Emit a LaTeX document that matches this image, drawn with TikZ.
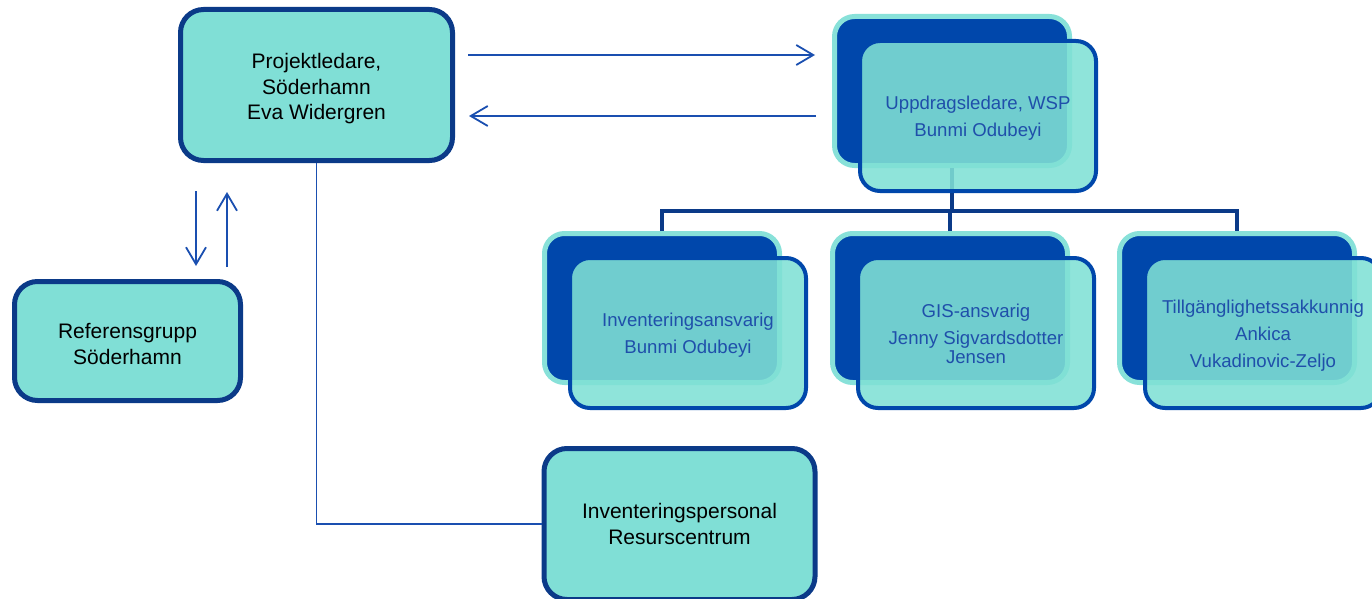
\documentclass[tikz,border=0pt]{standalone}
\usepackage{fontspec}
\setmainfont{Liberation Sans}
\usetikzlibrary{arrows.meta}
\definecolor{navy}{HTML}{0B3A88}
\definecolor{turq}{HTML}{80DFD6}
\definecolor{lblue}{HTML}{1A4FB0}
\definecolor{dblue}{HTML}{0047AB}
\definecolor{lturq}{HTML}{88E1D9}
\definecolor{ffill}{HTML}{80E0D5}
\definecolor{ftext}{HTML}{1F4FAA}
\newcommand{\topstrut}[1]{\rule{0pt}{#1}}
\begin{document}
\begin{tikzpicture}[x=1pt,y=-1pt,
  plainbox/.style={draw=navy, line width=5pt, fill=turq, rounded corners=23pt, text=black,
    font=\fontsize{21}{25.5}\selectfont, align=center, inner sep=0pt},
  backbox/.style={draw=lturq, line width=5pt, fill=dblue, rounded corners=20pt,
    minimum width=235pt, minimum height=149pt, inner sep=0pt},
  frontbox/.style={draw=dblue, line width=4pt, fill=ffill, fill opacity=0.88, text opacity=1,
    rounded corners=20pt, minimum width=236pt, minimum height=150pt, inner sep=0pt,
    text=ftext, font=\fontsize{18.6}{19.2}\selectfont, align=center},
  orgline/.style={draw=navy, line width=4pt, line join=miter},
  thinline/.style={draw=lblue, line width=1.8pt},
  arr/.style={thinline, -{Straight Barb[length=17pt,width=20pt]}},
]
\useasboundingbox (0,0) rectangle (1372,599);

% plain boxes
\node[plainbox, minimum width=272pt, minimum height=151pt] (proj) at (316.5,85)
  {\topstrut{22.5pt}Projektledare,\\Söderhamn\\Eva Widergren};
\node[plainbox, minimum width=226pt, minimum height=119pt] (ref) at (127.5,341)
  {\topstrut{21.5pt}Referensgrupp\\Söderhamn};
\node[plainbox, minimum width=271pt, minimum height=151pt] (invp) at (679.5,524)
  {Inventeringspersonal\\Resurscentrum};

% back boxes
\node[backbox] (wspb) at (952,91) {};
\node[backbox] (invb) at (662,308) {};
\node[backbox] (gisb) at (950,308) {};
\node[backbox] (tilb) at (1237,308) {};

% org connectors
\coordinate (hy) at (0,211);
\draw[orgline] (wspb.south) -- (wspb.south |- hy);
\draw[orgline] (invb.north) -- (invb.north |- hy) -- (tilb.north |- hy) -- (tilb.north);
\draw[orgline] (gisb.north) -- (gisb.north |- hy);

% front boxes
\node[frontbox] (wspf) at (978,116) {\topstrut{18.8pt}Uppdragsledare, WSP\\[7.8pt]Bunmi Odubeyi};
\node[frontbox] (invf) at (688,333) {\topstrut{17.8pt}Inventeringsansvarig\\[7.8pt]Bunmi Odubeyi};
\node[frontbox] (gisf) at (976,333) {\topstrut{15.5pt}GIS-ansvarig\\[7.8pt]Jenny Sigvardsdotter\\Jensen};
\node[frontbox] (tilf) at (1263,333) {\topstrut{18.8pt}Tillgänglighetssakkunnig\\[7.8pt]Ankica\\[7.8pt]Vukadinovic-Zeljo};

% arrows between project leader and WSP
\coordinate (ya) at (0,55);
\coordinate (yb) at (0,116);
\draw[arr, shorten <=13pt, shorten >=17pt] (proj.east |- ya) -- (wspb.west |- ya);
\draw[arr, shorten <=16pt, shorten >=14pt] (wspb.west |- yb) -- (proj.east |- yb);

% arrows between project leader and reference group
\coordinate (xa) at (196,0);
\coordinate (xb) at (227,0);
\draw[arr, shorten <=28pt, shorten >=13pt] (xa |- proj.south) -- (xa |- ref.north);
\draw[arr, shorten <=12pt, shorten >=29pt] (xb |- ref.north) -- (xb |- proj.south);

% line to inventory staff
\draw[thinline, line width=1.5pt] (proj.south) |- (invp.west);
\end{tikzpicture}
\end{document}
